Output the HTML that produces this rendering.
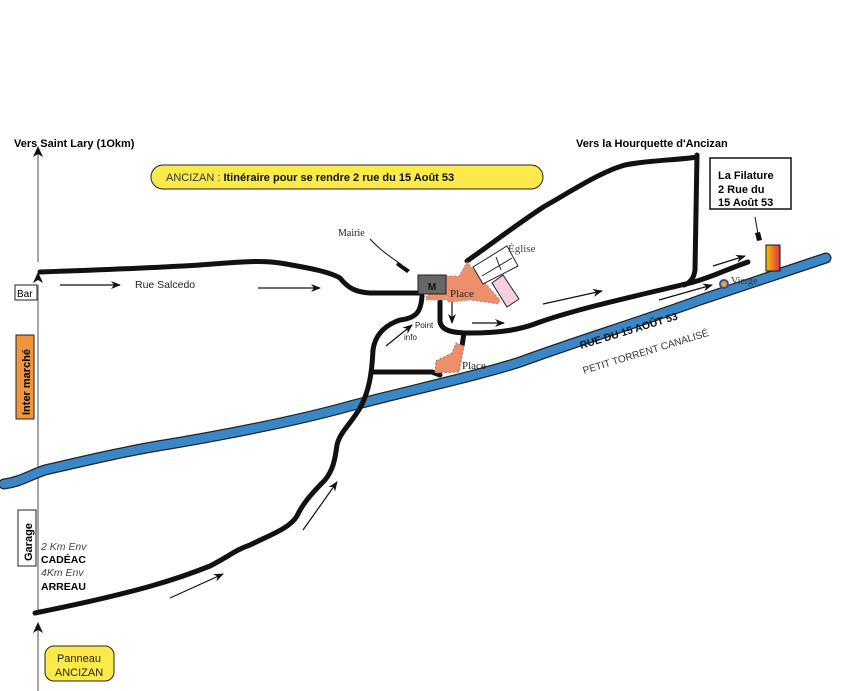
<!DOCTYPE html>
<html><head><meta charset="utf-8"><style>
html,body{margin:0;padding:0;background:#fff;}
svg{display:block;}
text{font-family:"Liberation Sans",sans-serif;}
.serif{font-family:"Liberation Serif",serif;}
</style></head><body>
<svg width="849" height="691" viewBox="0 0 849 691" xmlns="http://www.w3.org/2000/svg">
<defs>
<marker id="a" markerWidth="10" markerHeight="8" refX="9" refY="4" orient="auto" markerUnits="userSpaceOnUse"><path d="M0,0 L10,4 L0,8 L3,4z" fill="#111"/></marker>
</defs>
<g stroke="#888" stroke-width="1.5" fill="none">
<line x1="38" y1="152" x2="38" y2="262"/>
<line x1="38" y1="285" x2="38" y2="610"/>
<line x1="38" y1="628" x2="38" y2="691"/>
</g>
<path d="M33,157 L38,146 L43,157 L38,154z" fill="#111"/>
<path d="M33,283 L38,272 L43,283 L38,280z" fill="#111"/>
<path d="M33,633 L38,622 L43,633 L38,630z" fill="#111"/>

<path d="M4,484 C20,482 30,475 45,470 C80,462 130,450 170,444 C240,432 300,420 350,406 C420,388 480,375 520,362 C580,340 640,322 700,300 C760,280 790,270 826,258" stroke="#222" stroke-width="11" fill="none" stroke-linecap="round"/>
<path d="M4,484 C20,482 30,475 45,470 C80,462 130,450 170,444 C240,432 300,420 350,406 C420,388 480,375 520,362 C580,340 640,322 700,300 C760,280 790,270 826,258" stroke="#3a87c8" stroke-width="8.5" fill="none" stroke-linecap="round"/>

<g stroke="#111" stroke-width="5" fill="none" stroke-linecap="round" stroke-linejoin="round">
<path d="M40,272 C100,270 150,268 200,265 C240,262 260,260 280,263 C310,268 330,272 340,278 C348,288 355,292 370,293 L420,293"/>
<path d="M422,296 C421,310 418,318 400,320 C385,325 375,335 373,350 C372,370 370,390 360,408 C350,425 340,432 337,445 C335,460 333,470 325,480 C310,495 302,505 297,516 C290,528 270,535 250,545 C235,550 228,557 210,566 C180,578 140,592 35,613"/>
<path d="M374,372 L432,372 L440,375"/>
<path d="M440,296 L440,322 C442,330 450,333 470,333 C500,333 520,330 540,322 C580,308 640,295 690,283 C710,278 725,270 748,262"/>
<path d="M464,333 L462,346"/>
<path d="M467,261 C490,245 520,222 545,206 C570,192 600,172 625,165 C650,160 680,160 697,157"/>
<path d="M697,155 L695,270 C694,278 690,283 684,285"/>
</g>

<path d="M446,276 L459,276 L467,262 L500,300 L498,304 L470,300 L452,302 L448,302 L446,296 L426,296 L426,300 L446,300z" fill="#ee8f6c" stroke="#999" stroke-dasharray="2,2"/>
<path d="M428,294 L446,294 L446,300 L428,300z" fill="#ee8f6c"/>
<path d="M436,361 L452,353 L456,343 L464,346 L459,372 L435,373z" fill="#ee8f6c" stroke="#777" stroke-dasharray="2,2"/>
<path d="M473,267 L507,246 L518,266 L483,284z" fill="#fff" stroke="#222"/>
<line x1="482" y1="276" x2="512" y2="258" stroke="#222"/>
<line x1="496" y1="257" x2="501" y2="270" stroke="#222"/>
<path d="M492,283 L503,275 L519,299 L507,307z" fill="#f6cfe0" stroke="#222"/>
<rect x="418" y="275" width="28" height="19" fill="#666" stroke="#222"/>
<text x="432" y="290" font-size="10" font-weight="bold" fill="#111" text-anchor="middle">M</text>

<g stroke="#111" stroke-width="1.2" marker-end="url(#a)">
<line x1="60" y1="285" x2="120" y2="285"/>
<line x1="258" y1="288" x2="320" y2="288"/>
<line x1="452" y1="302" x2="452" y2="323"/>
<line x1="472" y1="323" x2="504" y2="323"/>
<line x1="543" y1="304" x2="602" y2="291"/>
<line x1="659" y1="300" x2="712" y2="285"/>
<line x1="713" y1="266" x2="745" y2="256"/>
<line x1="386" y1="346" x2="412" y2="325"/>
<line x1="170" y1="598" x2="223" y2="574"/>
<line x1="303" y1="530" x2="337" y2="482"/>
</g>

<path d="M370,239 C380,250 392,258 402,265" stroke="#111" fill="none"/>
<path d="M398,262 L410,270 L407,273 L396,265z" fill="#111"/>
<path d="M755,217 L758,234" stroke="#111"/>
<path d="M755,233 L760,232 L762,240 L757,241z" fill="#111"/>

<rect x="710" y="158" width="81" height="51" fill="#fff" stroke="#111" stroke-width="1.5"/>
<text x="718" y="179" font-size="11" font-weight="bold">La Filature</text>
<text x="718" y="193" font-size="11" font-weight="bold">2 Rue du</text>
<text x="718" y="206" font-size="11" font-weight="bold">15 Août 53</text>
<defs><linearGradient id="g" x1="0" x2="1"><stop offset="0" stop-color="#f6c300"/><stop offset="1" stop-color="#e0304a"/></linearGradient></defs>
<rect x="766" y="245" width="14" height="26" fill="url(#g)" stroke="#111"/>
<circle cx="724" cy="284" r="4" fill="#e8a040" stroke="#3050a0" stroke-width="2"/>

<text x="14" y="147" font-size="11" font-weight="bold">Vers Saint Lary (1Okm)</text>
<text x="576" y="147" font-size="11" font-weight="bold">Vers la Hourquette d'Ancizan</text>
<rect x="151" y="165" width="392" height="24" rx="12" fill="#fbea4a" stroke="#222"/>
<text x="166" y="181" font-size="11" fill="#333">ANCIZAN : <tspan font-weight="bold" fill="#111">Itinéraire pour se rendre 2 rue du 15 Août 53</tspan></text>
<text x="135" y="288" font-size="10.5" fill="#222">Rue Salcedo</text>
<text x="338" y="236" font-size="10" class="serif" fill="#222">Mairie</text>
<text x="508" y="252" font-size="11" class="serif" fill="#444">Église</text>
<text x="450" y="297" font-size="11" class="serif" fill="#222">Place</text>
<text x="462" y="369" font-size="11" class="serif" fill="#222">Place</text>
<text x="415" y="328" font-size="8" fill="#222">Point</text>
<text x="404" y="340" font-size="8" fill="#222">info</text>
<text x="731" y="284" font-size="10" class="serif" fill="#333">Vierge</text>
<text transform="translate(581,349) rotate(-17)" font-size="10.5" font-weight="bold" fill="#111">RUE DU 15 AOÛT 53</text>
<text transform="translate(584,374) rotate(-17)" font-size="10" fill="#333">PETIT TORRENT CANALISÉ</text>

<rect x="15" y="285" width="22" height="15" fill="#fff" stroke="#222"/>
<text x="17" y="297" font-size="10">Bar</text>
<rect x="16" y="335" width="18" height="84" fill="#f0963a" stroke="#222"/>
<text transform="translate(30,415) rotate(-90)" font-size="11" font-weight="bold">Inter marché</text>
<rect x="18" y="510" width="18" height="56" fill="#fff" stroke="#222"/>
<text transform="translate(32,561) rotate(-90)" font-size="11" font-weight="bold">Garage</text>
<text x="41" y="550" font-size="10.5" font-style="italic" fill="#444">2 Km Env</text>
<text x="41" y="563" font-size="10.5" font-weight="bold">CADÉAC</text>
<text x="41" y="576" font-size="10.5" font-style="italic" fill="#444">4Km Env</text>
<text x="41" y="590" font-size="10.5" font-weight="bold">ARREAU</text>
<rect x="45" y="646" width="69" height="35" rx="9" fill="#fbea4a" stroke="#222"/>
<text x="79" y="662" font-size="11" text-anchor="middle" fill="#222">Panneau</text>
<text x="79" y="676" font-size="11" text-anchor="middle" fill="#222">ANCIZAN</text>
</svg>
</body></html>
